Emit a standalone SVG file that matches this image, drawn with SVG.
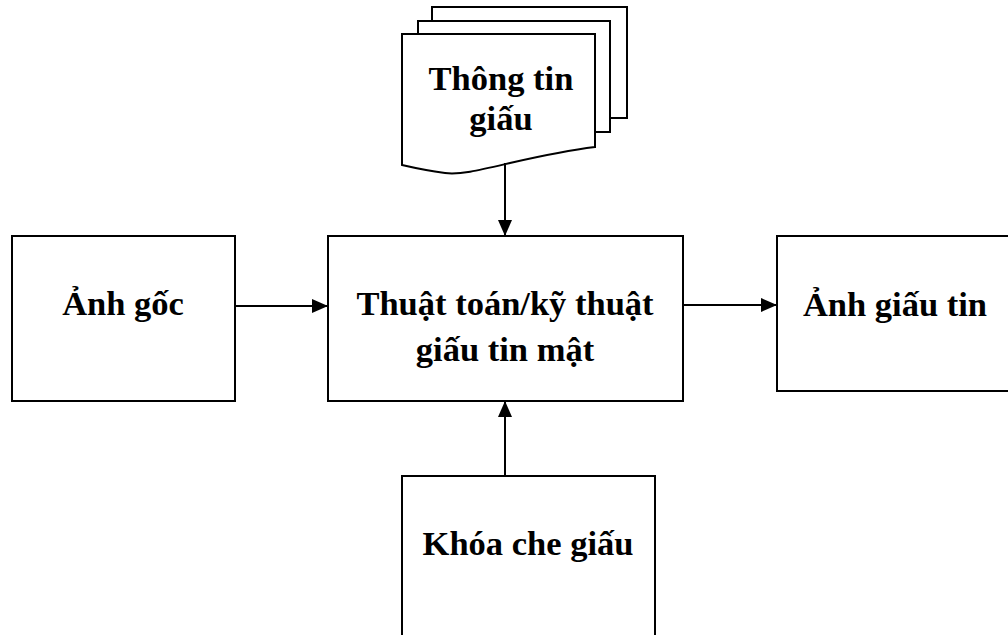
<svg xmlns="http://www.w3.org/2000/svg" width="1008" height="635" viewBox="0 0 1008 635">
<style>
.box{fill:#fff;stroke:#000;stroke-width:2}
.t{font-family:"Liberation Serif","Times New Roman",serif;font-weight:bold;font-size:34.5px;fill:#000;text-anchor:middle}
.c{stroke:#000;stroke-width:2;fill:none}
</style>
<defs>
<marker id="ahb" viewBox="0 0 16 14" refX="16" refY="7" markerWidth="16" markerHeight="14" markerUnits="userSpaceOnUse" orient="auto">
<path d="M0,0 L16,7 L0,14 z" fill="#000"/>
</marker>
</defs>
<rect width="1008" height="635" fill="#fff"/>
<g id="doc">
<rect class="box" x="432" y="7" width="195" height="111"/>
<rect class="box" x="418" y="21" width="192" height="111"/>
<path class="box" d="M402,34 H595 V147 C570,150 545,155 510,163 C480,170 460,175 445,173 C430,171 415,168 402,165 Z"/>
<text class="t" x="501" y="90">Thông tin</text>
<text class="t" x="501" y="130">giấu</text>
</g>
<g id="src">
<rect class="box" x="12" y="236" width="223" height="165"/>
<text class="t" x="123" y="315">Ảnh gốc</text>
</g>
<g id="algo">
<rect class="box" x="328" y="236" width="355" height="165"/>
<text class="t" x="505" y="315">Thuật toán/kỹ thuật</text>
<text class="t" x="505" y="361">giấu tin mật</text>
</g>
<g id="out">
<rect class="box" x="777" y="236" width="240" height="155"/>
<text class="t" x="895" y="316">Ảnh giấu tin</text>
</g>
<g id="key">
<rect class="box" x="402" y="476" width="253" height="170"/>
<text class="t" x="528" y="555">Khóa che giấu</text>
</g>
<g id="connectors">
<line class="c" x1="505" y1="163" x2="505" y2="236" marker-end="url(#ahb)"/>
<line class="c" x1="235" y1="306" x2="328" y2="306" marker-end="url(#ahb)"/>
<line class="c" x1="683" y1="305" x2="777" y2="305" marker-end="url(#ahb)"/>
<line class="c" x1="505" y1="476" x2="505" y2="401" marker-end="url(#ahb)"/>
</g>
</svg>
